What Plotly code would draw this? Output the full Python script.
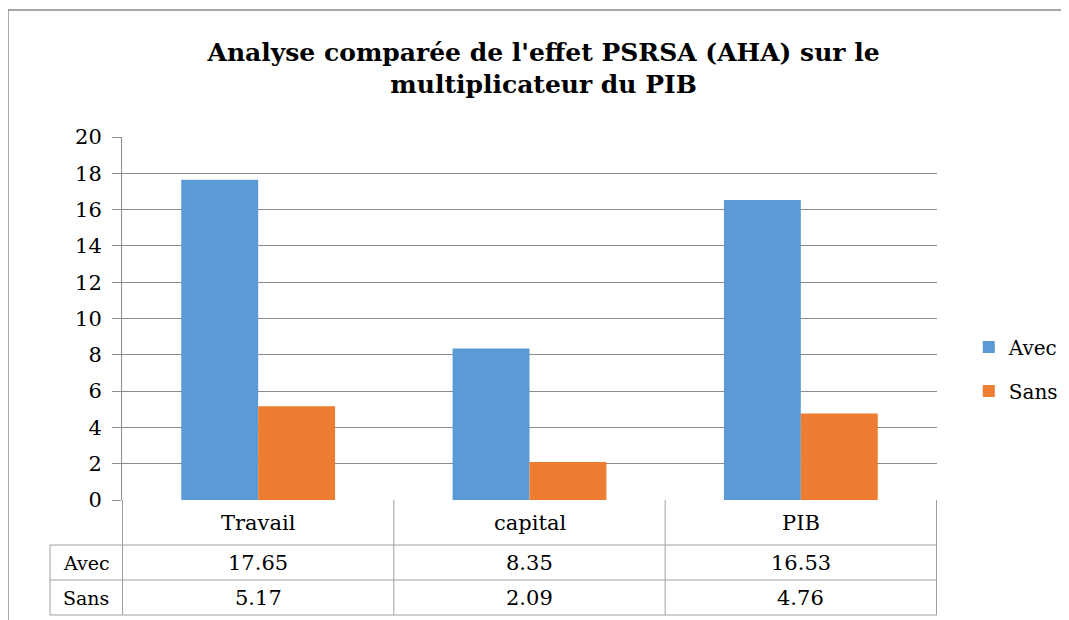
"""Grouped bar chart with an Excel-style data table underneath."""

import plotly.graph_objects as go

categories = ["Travail", "capital", "PIB"]
avec = [17.65, 8.35, 16.53]
sans = [5.17, 2.09, 4.76]
series = {"Avec": avec, "Sans": sans}
y_ticks = list(range(0, 21, 2))

COLORS = {"Avec": "#5B9BD5", "Sans": "#ED7D31"}
FONT = "DejaVu Serif"  # only serif face that resolves in the sandbox
GRID = "#8c8c8c"
TABLE_LINE = "#a0a0a0"

# table geometry in paper units (plot area spans 0..1)
ROW_EDGES = [0.0, -0.124, -0.2204, -0.3168]
ROW_LABEL_X = -0.0883

fig = go.Figure()
for name, vals in series.items():
    fig.add_trace(go.Bar(
        x=categories, y=vals, name=name,
        marker=dict(color=COLORS[name], line=dict(width=0)),
        legendgroup=name,
    ))

shapes = []
# horizontal table lines
for y in ROW_EDGES[1:]:
    shapes.append(dict(type="line", xref="paper", yref="paper",
                       x0=ROW_LABEL_X, x1=1, y0=y, y1=y,
                       line=dict(color=TABLE_LINE, width=1)))
# left border of the row-label column
shapes.append(dict(type="line", xref="paper", yref="paper",
                   x0=ROW_LABEL_X, x1=ROW_LABEL_X, y0=ROW_EDGES[1], y1=ROW_EDGES[-1],
                   line=dict(color=TABLE_LINE, width=1)))
# column separators at category boundaries
for k in range(len(categories) + 1):
    shapes.append(dict(type="line", xref="x", yref="paper",
                       x0=k - 0.5, x1=k - 0.5, y0=0, y1=ROW_EDGES[-1],
                       line=dict(color=TABLE_LINE, width=1)))
# outer chart frame
shapes.append(dict(type="rect", xref="paper", yref="paper",
                   x0=-0.1399, x1=1.3, y0=-0.6, y1=1.3499,
                   line=dict(color="#8a8a8a", width=1.5), fillcolor="rgba(0,0,0,0)",
                   layer="below"))

cell_font = dict(family=FONT, size=21, color="black")
annotations = []
for r, (name, vals) in enumerate(series.items()):
    yc = (ROW_EDGES[r + 1] + ROW_EDGES[r + 2]) / 2
    annotations.append(dict(text=name, xref="paper", yref="paper",
                            x=ROW_LABEL_X / 2, y=yc, showarrow=False,
                            xanchor="center", yanchor="middle",
                            font=dict(family=FONT, size=19, color="black")))
    for cat, v in zip(categories, vals):
        annotations.append(dict(text=f"{v:.2f}", xref="x", yref="paper",
                                x=cat, y=yc, showarrow=False,
                                xanchor="center", yanchor="middle", font=cell_font))
# header row labels
for cat in categories:
    annotations.append(dict(text=cat, xref="x", yref="paper",
                            x=cat, y=(ROW_EDGES[0] + ROW_EDGES[1]) / 2, showarrow=False,
                            xanchor="center", yanchor="middle", font=cell_font))

fig.update_layout(
    width=1069, height=620,
    title=dict(text="<b>Analyse comparée de l'effet PSRSA (AHA) sur le<br>multiplicateur du PIB</b>",
               x=0.501, xanchor="center", y=0.915, yanchor="middle",
               font=dict(family=FONT, size=25, color="black")),
    font=dict(family=FONT, size=21, color="black"),
    paper_bgcolor="white", plot_bgcolor="white",
    margin=dict(l=114, r=140, t=129, b=128),
    barmode="group", bargap=0.433, bargroupgap=0,
    legend=dict(x=1.039, y=0.361, xanchor="left", yanchor="middle",
                font=dict(family=FONT, size=20), tracegroupgap=15,
                bgcolor="rgba(0,0,0,0)"),
    shapes=shapes, annotations=annotations,
)
fig.update_xaxes(showticklabels=False, showgrid=False, showline=False, ticks="",
                 zeroline=False)
fig.update_yaxes(range=[0, 20], tickvals=y_ticks, showgrid=True, gridcolor=GRID,
                 gridwidth=1, showline=True, linecolor=GRID, linewidth=1,
                 ticks="outside", ticklen=9, tickcolor=GRID, zeroline=False,
                 ticklabelstandoff=6, tickfont=dict(family=FONT, size=21))

fig.write_html("out.html")
